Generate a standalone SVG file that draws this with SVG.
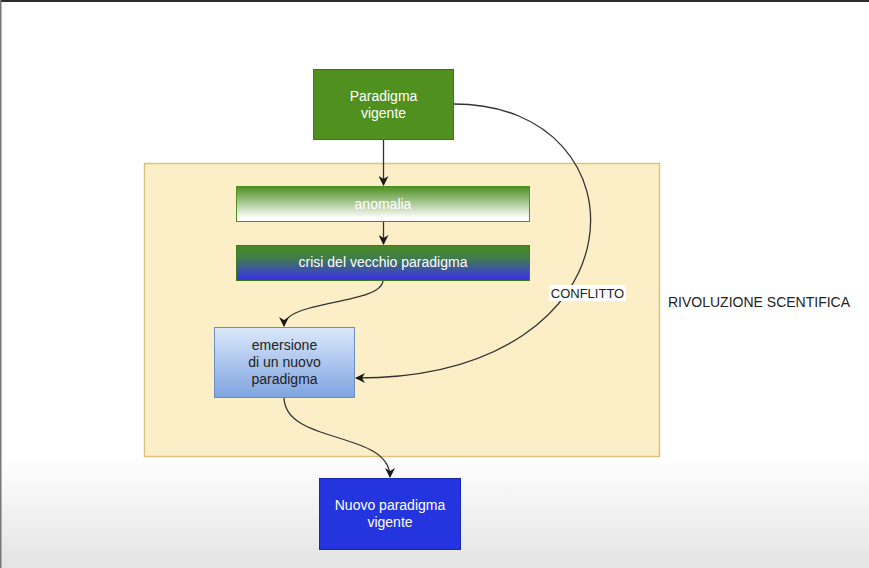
<svg xmlns="http://www.w3.org/2000/svg" width="869" height="568" viewBox="0 0 869 568">
<defs>
<linearGradient id="bg" x1="0" y1="0" x2="0" y2="1">
<stop offset="0" stop-color="#ffffff"/><stop offset="0.8" stop-color="#ffffff"/><stop offset="1" stop-color="#e4e4e4"/>
</linearGradient>
<linearGradient id="gAnom" x1="0" y1="0" x2="0" y2="1">
<stop offset="0" stop-color="#4e8f22"/><stop offset="0.9" stop-color="#ffffff"/>
</linearGradient>
<linearGradient id="gCrisi" x1="0" y1="0" x2="0" y2="1">
<stop offset="0" stop-color="#4a8a24"/><stop offset="0.35" stop-color="#3f7d4a"/><stop offset="1" stop-color="#3a2ff0"/>
</linearGradient>
<linearGradient id="gEm" x1="0" y1="0" x2="0" y2="1">
<stop offset="0" stop-color="#dbe8fb"/><stop offset="1" stop-color="#7ea4e0"/>
</linearGradient>
<marker id="arr" viewBox="0 0 10 10" refX="9" refY="5" markerWidth="10" markerHeight="10" markerUnits="userSpaceOnUse" orient="auto">
<path d="M0,0 L10,5 L0,10 L3,5 Z" fill="#1a1a1a"/>
</marker>
</defs>
<style>
.t{font-family:"Liberation Sans",Arial,sans-serif;font-size:14px;text-anchor:middle}
.w{fill:#ffffff}
.d{fill:#222222}
.c{fill:none;stroke:#333333;stroke-width:1.3}
</style>
<rect x="0" y="0" width="869" height="568" fill="url(#bg)"/>
<rect x="0" y="0" width="869" height="2" fill="#2b2b2b"/>
<rect x="0" y="0" width="1.5" height="568" fill="#777777"/>

<g id="container">
<rect x="144.5" y="163.5" width="515" height="293" fill="#fcefc8" stroke="#dcc27a" stroke-width="1.5"/>
</g>
<text x="668" y="307" style="font-family:'Liberation Sans',Arial,sans-serif;font-size:14px" fill="#222222">RIVOLUZIONE SCENTIFICA</text>

<g id="connectors">
<path class="c" d="M383.5 139 L383.5 185" marker-end="url(#arr)"/>
<path class="c" d="M383.5 221 L383.5 244" marker-end="url(#arr)"/>
<path class="c" d="M383 280 C383 305, 284 300, 284 326" marker-end="url(#arr)"/>
<path class="c" d="M454 104 C650 104, 650 378, 356 378" marker-end="url(#arr)"/>
<path class="c" d="M284 397 C284 445, 390 430, 390 477" marker-end="url(#arr)"/>
<rect x="549" y="285" width="77" height="16" fill="#ffffff"/>
<text x="587.5" y="297.5" class="t d" style="font-size:13px">CONFLITTO</text>
</g>

<g id="paradigma-vigente">
<rect x="313.5" y="69.5" width="140" height="70" fill="#4f901f" stroke="#3e7518"/>
<text x="383.5" y="101" class="t w">Paradigma</text>
<text x="383.5" y="118" class="t w">vigente</text>
</g>

<g id="anomalia">
<rect x="236.5" y="186.5" width="293" height="35" fill="url(#gAnom)" stroke="#4e8f22"/>
<text x="383" y="209" class="t w">anomalia</text>
</g>

<g id="crisi">
<rect x="236.5" y="245.5" width="293" height="35" fill="url(#gCrisi)" stroke="#3f7a1c"/>
<text x="383" y="266.5" class="t w">crisi del vecchio paradigma</text>
</g>

<g id="emersione">
<rect x="214.5" y="327.5" width="140" height="70" fill="url(#gEm)" stroke="#6c8ebf"/>
<text x="284.5" y="350" class="t d">emersione</text>
<text x="284.5" y="367" class="t d">di un nuovo</text>
<text x="284.5" y="384" class="t d">paradigma</text>
</g>

<g id="nuovo-paradigma">
<rect x="319.5" y="478.5" width="141" height="71" fill="#2434de" stroke="#1a28b0"/>
<text x="390" y="510" class="t w">Nuovo paradigma</text>
<text x="390" y="527" class="t w">vigente</text>
</g>
</svg>
